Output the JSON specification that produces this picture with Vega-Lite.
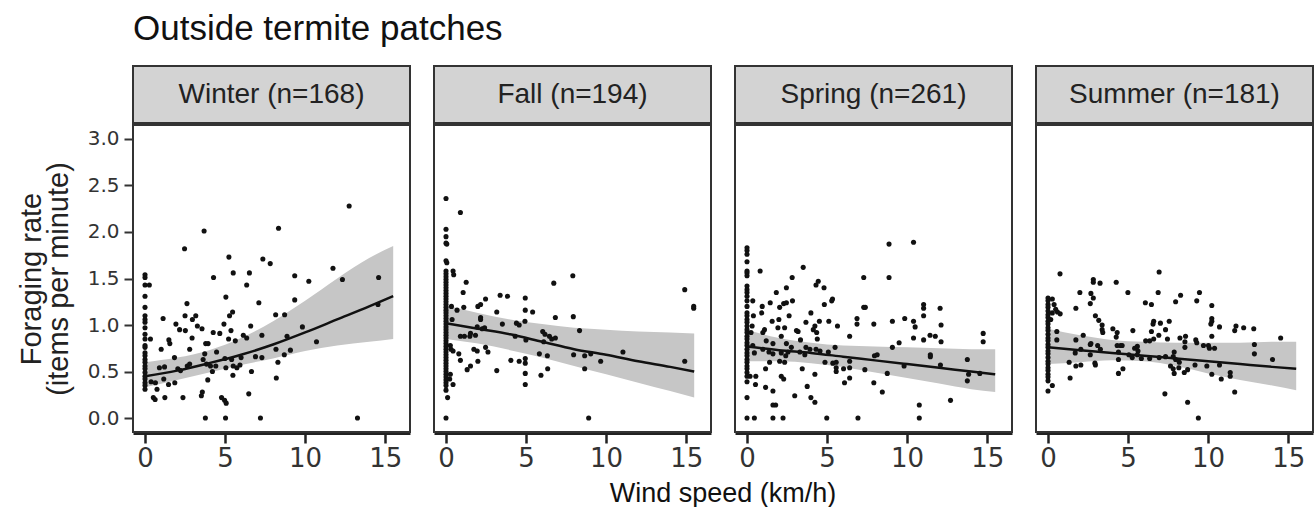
{
  "$schema": "https://vega.github.io/schema/vega-lite/v6.json",
  "background": "white",
  "padding": {"left": 17, "top": 12, "right": 5, "bottom": 0},
  "title": {"text": "Outside termite patches", "anchor": "start", "frame": "group", "fontSize": 35, "fontWeight": "normal", "font": "Liberation Sans", "color": "#111", "offset": 18},
  "config": {"font": "Liberation Sans", "view": {"stroke": null}, "axis": {"grid": false}},
  "spacing": 0,
  "datasets": {
    "panels": [
      {"season": "Winter", "label": "Winter (n=168)"},
      {"season": "Fall", "label": "Fall (n=194)"},
      {"season": "Spring", "label": "Spring (n=261)"},
      {"season": "Summer", "label": "Summer (n=181)"}
    ],
    "obs": [
      {"season":"Winter","wind":0,"rate":1.54},{"season":"Winter","wind":0,"rate":1.51},{"season":"Winter","wind":0,"rate":1.43},{"season":"Winter","wind":0,"rate":1.31},{"season":"Winter","wind":0,"rate":1.19},{"season":"Winter","wind":0,"rate":1.10},{"season":"Winter","wind":0,"rate":1.06},{"season":"Winter","wind":0,"rate":1.03},{"season":"Winter","wind":0,"rate":0.97},{"season":"Winter","wind":0,"rate":0.90},{"season":"Winter","wind":0,"rate":0.85},{"season":"Winter","wind":0,"rate":0.78},{"season":"Winter","wind":0,"rate":0.76},{"season":"Winter","wind":0,"rate":0.70},{"season":"Winter","wind":0,"rate":0.67},{"season":"Winter","wind":0,"rate":0.63},{"season":"Winter","wind":0,"rate":0.60},{"season":"Winter","wind":0,"rate":0.56},{"season":"Winter","wind":0,"rate":0.53},{"season":"Winter","wind":0,"rate":0.49},{"season":"Winter","wind":0,"rate":0.45},{"season":"Winter","wind":0,"rate":0.42},{"season":"Winter","wind":0,"rate":0.38},{"season":"Winter","wind":0,"rate":0.35},{"season":"Winter","wind":0,"rate":0.31},
      {"season":"Winter","wind":0.27,"rate":1.43},{"season":"Winter","wind":0.34,"rate":0.85},{"season":"Winter","wind":0.9,"rate":0.54},{"season":"Winter","wind":0.38,"rate":0.39},
      {"season":"Winter","wind":12.75,"rate":2.28},{"season":"Winter","wind":3.69,"rate":2.01},{"season":"Winter","wind":8.34,"rate":2.04},{"season":"Winter","wind":2.47,"rate":1.82},{"season":"Winter","wind":5.24,"rate":1.73},{"season":"Winter","wind":7.36,"rate":1.71},{"season":"Winter","wind":7.82,"rate":1.66},{"season":"Winter","wind":5.51,"rate":1.56},{"season":"Winter","wind":6.52,"rate":1.56},{"season":"Winter","wind":4.28,"rate":1.51},{"season":"Winter","wind":9.35,"rate":1.53},{"season":"Winter","wind":11.74,"rate":1.61},{"season":"Winter","wind":14.59,"rate":1.51},{"season":"Winter","wind":12.33,"rate":1.49},{"season":"Winter","wind":10.23,"rate":1.47},{"season":"Winter","wind":6.35,"rate":1.43},{"season":"Winter","wind":5.05,"rate":1.30},{"season":"Winter","wind":7.11,"rate":1.24},{"season":"Winter","wind":9.35,"rate":1.27},{"season":"Winter","wind":2.62,"rate":1.23},{"season":"Winter","wind":14.55,"rate":1.22},{"season":"Winter","wind":1.13,"rate":1.07},{"season":"Winter","wind":2.50,"rate":1.10},{"season":"Winter","wind":2.96,"rate":1.06},{"season":"Winter","wind":3.17,"rate":1.10},{"season":"Winter","wind":3.27,"rate":0.99},{"season":"Winter","wind":3.56,"rate":0.96},{"season":"Winter","wind":1.93,"rate":1.01},{"season":"Winter","wind":2.16,"rate":0.95},{"season":"Winter","wind":2.52,"rate":0.94},{"season":"Winter","wind":5.28,"rate":1.10},{"season":"Winter","wind":5.47,"rate":1.14},{"season":"Winter","wind":4.93,"rate":1.01},{"season":"Winter","wind":5.37,"rate":0.94},{"season":"Winter","wind":6.60,"rate":0.99},{"season":"Winter","wind":8.16,"rate":1.11},{"season":"Winter","wind":8.72,"rate":1.11},{"season":"Winter","wind":9.83,"rate":0.98},{"season":"Winter","wind":7.30,"rate":0.89},{"season":"Winter","wind":4.26,"rate":0.92},{"season":"Winter","wind":4.67,"rate":0.91},{"season":"Winter","wind":2.94,"rate":0.86},{"season":"Winter","wind":5.22,"rate":0.85},{"season":"Winter","wind":5.64,"rate":0.83},{"season":"Winter","wind":6.14,"rate":0.89},{"season":"Winter","wind":6.35,"rate":0.86},{"season":"Winter","wind":8.87,"rate":0.88},{"season":"Winter","wind":10.71,"rate":0.82},{"season":"Winter","wind":1.49,"rate":0.84},{"season":"Winter","wind":1.55,"rate":0.80},{"season":"Winter","wind":1.01,"rate":0.74},{"season":"Winter","wind":2.79,"rate":0.74},{"season":"Winter","wind":3.79,"rate":0.80},{"season":"Winter","wind":3.94,"rate":0.80},{"season":"Winter","wind":4.47,"rate":0.71},{"season":"Winter","wind":3.73,"rate":0.69},{"season":"Winter","wind":1.84,"rate":0.65},{"season":"Winter","wind":3.63,"rate":0.63},{"season":"Winter","wind":4.99,"rate":0.64},{"season":"Winter","wind":5.41,"rate":0.63},{"season":"Winter","wind":6.00,"rate":0.65},{"season":"Winter","wind":6.90,"rate":0.66},{"season":"Winter","wind":7.30,"rate":0.65},{"season":"Winter","wind":8.18,"rate":0.74},{"season":"Winter","wind":9.08,"rate":0.73},{"season":"Winter","wind":8.70,"rate":0.68},{"season":"Winter","wind":8.30,"rate":0.60},{"season":"Winter","wind":1.22,"rate":0.55},{"season":"Winter","wind":2.05,"rate":0.53},{"season":"Winter","wind":2.22,"rate":0.51},{"season":"Winter","wind":2.64,"rate":0.56},{"season":"Winter","wind":2.79,"rate":0.58},{"season":"Winter","wind":3.84,"rate":0.58},{"season":"Winter","wind":4.09,"rate":0.56},{"season":"Winter","wind":4.21,"rate":0.50},{"season":"Winter","wind":4.42,"rate":0.56},{"season":"Winter","wind":5.05,"rate":0.54},{"season":"Winter","wind":5.51,"rate":0.56},{"season":"Winter","wind":5.74,"rate":0.54},{"season":"Winter","wind":5.93,"rate":0.57},{"season":"Winter","wind":6.65,"rate":0.50},{"season":"Winter","wind":5.49,"rate":0.46},{"season":"Winter","wind":3.92,"rate":0.41},{"season":"Winter","wind":0.65,"rate":0.38},{"season":"Winter","wind":1.17,"rate":0.42},{"season":"Winter","wind":1.47,"rate":0.36},{"season":"Winter","wind":1.86,"rate":0.38},{"season":"Winter","wind":0.75,"rate":0.31},{"season":"Winter","wind":8.20,"rate":0.43},{"season":"Winter","wind":0.52,"rate":0.22},{"season":"Winter","wind":0.63,"rate":0.20},{"season":"Winter","wind":1.24,"rate":0.22},{"season":"Winter","wind":2.37,"rate":0.22},{"season":"Winter","wind":3.58,"rate":0.28},{"season":"Winter","wind":3.52,"rate":0.24},{"season":"Winter","wind":4.78,"rate":0.22},{"season":"Winter","wind":4.97,"rate":0.19},{"season":"Winter","wind":5.07,"rate":0.16},{"season":"Winter","wind":6.48,"rate":0.26},{"season":"Winter","wind":3.77,"rate":0},{"season":"Winter","wind":5.03,"rate":0},{"season":"Winter","wind":7.21,"rate":0},{"season":"Winter","wind":13.27,"rate":0},

      {"season":"Fall","wind":0,"rate":2.36},{"season":"Fall","wind":0,"rate":2.03},{"season":"Fall","wind":0,"rate":1.95},{"season":"Fall","wind":0,"rate":1.88},{"season":"Fall","wind":0.05,"rate":1.87},{"season":"Fall","wind":0,"rate":1.69},{"season":"Fall","wind":0.05,"rate":1.67},{"season":"Fall","wind":0,"rate":1.58},{"season":"Fall","wind":0,"rate":1.55},{"season":"Fall","wind":0,"rate":1.52},{"season":"Fall","wind":0,"rate":1.49},{"season":"Fall","wind":0,"rate":1.46},{"season":"Fall","wind":0,"rate":1.43},{"season":"Fall","wind":0,"rate":1.40},{"season":"Fall","wind":0,"rate":1.37},{"season":"Fall","wind":0,"rate":1.34},{"season":"Fall","wind":0,"rate":1.31},{"season":"Fall","wind":0,"rate":1.28},{"season":"Fall","wind":0,"rate":1.25},{"season":"Fall","wind":0,"rate":1.22},{"season":"Fall","wind":0,"rate":1.19},{"season":"Fall","wind":0,"rate":1.16},{"season":"Fall","wind":0,"rate":1.13},{"season":"Fall","wind":0,"rate":1.10},{"season":"Fall","wind":0,"rate":1.07},{"season":"Fall","wind":0,"rate":1.04},{"season":"Fall","wind":0,"rate":1.01},{"season":"Fall","wind":0,"rate":0.98},{"season":"Fall","wind":0,"rate":0.95},{"season":"Fall","wind":0,"rate":0.92},{"season":"Fall","wind":0,"rate":0.89},{"season":"Fall","wind":0,"rate":0.86},{"season":"Fall","wind":0,"rate":0.83},{"season":"Fall","wind":0,"rate":0.80},{"season":"Fall","wind":0,"rate":0.77},{"season":"Fall","wind":0,"rate":0.74},{"season":"Fall","wind":0,"rate":0.71},{"season":"Fall","wind":0,"rate":0.68},{"season":"Fall","wind":0,"rate":0.65},{"season":"Fall","wind":0,"rate":0.62},{"season":"Fall","wind":0,"rate":0.59},{"season":"Fall","wind":0,"rate":0.56},{"season":"Fall","wind":0,"rate":0.53},{"season":"Fall","wind":0,"rate":0.50},{"season":"Fall","wind":0,"rate":0.47},{"season":"Fall","wind":0,"rate":0.44},{"season":"Fall","wind":0,"rate":0.41},{"season":"Fall","wind":0,"rate":0.38},{"season":"Fall","wind":0,"rate":0.35},{"season":"Fall","wind":0,"rate":0.30},{"season":"Fall","wind":0.1,"rate":0.22},{"season":"Fall","wind":0,"rate":0},
      {"season":"Fall","wind":0.44,"rate":1.58},{"season":"Fall","wind":0.48,"rate":1.54},{"season":"Fall","wind":0.38,"rate":1.06},{"season":"Fall","wind":0.31,"rate":0.74},{"season":"Fall","wind":0.44,"rate":0.72},{"season":"Fall","wind":0.27,"rate":0.47},{"season":"Fall","wind":0.44,"rate":0.36},{"season":"Fall","wind":0.23,"rate":0.42},{"season":"Fall","wind":0.27,"rate":0.78},{"season":"Fall","wind":0.34,"rate":1.20},
      {"season":"Fall","wind":0.90,"rate":2.21},{"season":"Fall","wind":7.92,"rate":1.53},{"season":"Fall","wind":6.73,"rate":1.45},{"season":"Fall","wind":1.26,"rate":1.46},{"season":"Fall","wind":1.07,"rate":1.35},{"season":"Fall","wind":3.38,"rate":1.32},{"season":"Fall","wind":3.84,"rate":1.31},{"season":"Fall","wind":2.47,"rate":1.28},{"season":"Fall","wind":4.95,"rate":1.29},{"season":"Fall","wind":2.16,"rate":1.22},{"season":"Fall","wind":1.99,"rate":1.20},{"season":"Fall","wind":1.11,"rate":1.19},{"season":"Fall","wind":0.69,"rate":1.16},{"season":"Fall","wind":3.17,"rate":1.14},{"season":"Fall","wind":4.95,"rate":1.16},{"season":"Fall","wind":5.41,"rate":1.14},{"season":"Fall","wind":2.16,"rate":1.08},{"season":"Fall","wind":2.16,"rate":1.06},{"season":"Fall","wind":6.83,"rate":1.08},{"season":"Fall","wind":7.95,"rate":1.09},{"season":"Fall","wind":3.52,"rate":1.01},{"season":"Fall","wind":4.40,"rate":1.02},{"season":"Fall","wind":4.57,"rate":1.00},{"season":"Fall","wind":4.93,"rate":1.04},{"season":"Fall","wind":1.95,"rate":0.98},{"season":"Fall","wind":2.26,"rate":0.96},{"season":"Fall","wind":2.41,"rate":0.97},{"season":"Fall","wind":8.34,"rate":0.94},{"season":"Fall","wind":6.04,"rate":0.93},{"season":"Fall","wind":6.18,"rate":0.90},{"season":"Fall","wind":6.46,"rate":0.88},{"season":"Fall","wind":6.83,"rate":0.86},{"season":"Fall","wind":6.60,"rate":0.85},{"season":"Fall","wind":6.10,"rate":0.82},{"season":"Fall","wind":4.32,"rate":0.88},{"season":"Fall","wind":4.99,"rate":0.84},{"season":"Fall","wind":0.90,"rate":0.88},{"season":"Fall","wind":1.15,"rate":0.88},{"season":"Fall","wind":1.49,"rate":0.88},{"season":"Fall","wind":1.53,"rate":0.91},{"season":"Fall","wind":1.84,"rate":0.89},{"season":"Fall","wind":1.74,"rate":0.74},{"season":"Fall","wind":1.95,"rate":0.72},{"season":"Fall","wind":2.47,"rate":0.76},{"season":"Fall","wind":2.62,"rate":0.71},{"season":"Fall","wind":0.80,"rate":0.69},{"season":"Fall","wind":0.90,"rate":0.62},{"season":"Fall","wind":1.99,"rate":0.61},{"season":"Fall","wind":3.17,"rate":0.51},{"season":"Fall","wind":4.05,"rate":0.62},{"season":"Fall","wind":4.57,"rate":0.61},{"season":"Fall","wind":4.95,"rate":0.64},{"season":"Fall","wind":4.95,"rate":0.59},{"season":"Fall","wind":5.83,"rate":0.69},{"season":"Fall","wind":6.33,"rate":0.67},{"season":"Fall","wind":7.97,"rate":0.68},{"season":"Fall","wind":8.66,"rate":0.67},{"season":"Fall","wind":9.04,"rate":0.69},{"season":"Fall","wind":9.66,"rate":0.61},{"season":"Fall","wind":11.05,"rate":0.71},{"season":"Fall","wind":14.91,"rate":1.38},{"season":"Fall","wind":15.47,"rate":1.18},{"season":"Fall","wind":15.47,"rate":1.20},{"season":"Fall","wind":14.91,"rate":0.61},{"season":"Fall","wind":1.32,"rate":0.52},{"season":"Fall","wind":1.53,"rate":0.56},{"season":"Fall","wind":4.95,"rate":0.48},{"season":"Fall","wind":4.95,"rate":0.36},{"season":"Fall","wind":5.93,"rate":0.46},{"season":"Fall","wind":6.35,"rate":0.53},{"season":"Fall","wind":8.66,"rate":0.53},{"season":"Fall","wind":8.91,"rate":0},

      {"season":"Spring","wind":0,"rate":1.83},{"season":"Spring","wind":0,"rate":1.80},{"season":"Spring","wind":0,"rate":1.76},{"season":"Spring","wind":0,"rate":1.68},{"season":"Spring","wind":0,"rate":1.58},{"season":"Spring","wind":0,"rate":1.56},{"season":"Spring","wind":0,"rate":1.53},{"season":"Spring","wind":0,"rate":1.42},{"season":"Spring","wind":0,"rate":1.38},{"season":"Spring","wind":0,"rate":1.35},{"season":"Spring","wind":0,"rate":1.31},{"season":"Spring","wind":0,"rate":1.26},{"season":"Spring","wind":0,"rate":1.20},{"season":"Spring","wind":0,"rate":1.13},{"season":"Spring","wind":0,"rate":1.10},{"season":"Spring","wind":0,"rate":1.06},{"season":"Spring","wind":0,"rate":1.03},{"season":"Spring","wind":0,"rate":0.99},{"season":"Spring","wind":0,"rate":0.95},{"season":"Spring","wind":0,"rate":0.92},{"season":"Spring","wind":0,"rate":0.88},{"season":"Spring","wind":0,"rate":0.85},{"season":"Spring","wind":0,"rate":0.81},{"season":"Spring","wind":0,"rate":0.78},{"season":"Spring","wind":0,"rate":0.74},{"season":"Spring","wind":0,"rate":0.70},{"season":"Spring","wind":0,"rate":0.67},{"season":"Spring","wind":0,"rate":0.63},{"season":"Spring","wind":0,"rate":0.60},{"season":"Spring","wind":0,"rate":0.56},{"season":"Spring","wind":0,"rate":0.53},{"season":"Spring","wind":0,"rate":0.49},{"season":"Spring","wind":0,"rate":0.45},{"season":"Spring","wind":0,"rate":0.39},{"season":"Spring","wind":0,"rate":0.22},{"season":"Spring","wind":0,"rate":0},
      {"season":"Spring","wind":0.36,"rate":1.26},{"season":"Spring","wind":0.40,"rate":1.10},{"season":"Spring","wind":0.25,"rate":0.92},{"season":"Spring","wind":0.46,"rate":0.70},{"season":"Spring","wind":0.19,"rate":0.45},{"season":"Spring","wind":0.46,"rate":0},{"season":"Spring","wind":0.36,"rate":0.78},{"season":"Spring","wind":0.32,"rate":0.99},{"season":"Spring","wind":0.53,"rate":0.36},{"season":"Spring","wind":0.55,"rate":0.45},
      {"season":"Spring","wind":0.82,"rate":1.58},{"season":"Spring","wind":8.87,"rate":1.87},{"season":"Spring","wind":10.40,"rate":1.89},{"season":"Spring","wind":3.51,"rate":1.62},{"season":"Spring","wind":2.82,"rate":1.51},{"season":"Spring","wind":7.29,"rate":1.51},{"season":"Spring","wind":8.87,"rate":1.51},{"season":"Spring","wind":4.45,"rate":1.47},{"season":"Spring","wind":4.31,"rate":1.43},{"season":"Spring","wind":4.81,"rate":1.40},{"season":"Spring","wind":2.46,"rate":1.40},{"season":"Spring","wind":1.83,"rate":1.35},{"season":"Spring","wind":5.34,"rate":1.28},{"season":"Spring","wind":5.29,"rate":1.26},{"season":"Spring","wind":1.45,"rate":1.24},{"season":"Spring","wind":2.29,"rate":1.23},{"season":"Spring","wind":2.46,"rate":1.24},{"season":"Spring","wind":2.84,"rate":1.26},{"season":"Spring","wind":0.95,"rate":1.20},{"season":"Spring","wind":2.04,"rate":1.19},{"season":"Spring","wind":4.83,"rate":1.22},{"season":"Spring","wind":7.29,"rate":1.19},{"season":"Spring","wind":7.39,"rate":1.19},{"season":"Spring","wind":11.03,"rate":1.22},{"season":"Spring","wind":11.03,"rate":1.18},{"season":"Spring","wind":0.92,"rate":1.13},{"season":"Spring","wind":2.63,"rate":1.10},{"season":"Spring","wind":3.99,"rate":1.13},{"season":"Spring","wind":12.06,"rate":1.18},{"season":"Spring","wind":11.03,"rate":1.10},{"season":"Spring","wind":6.87,"rate":1.07},{"season":"Spring","wind":9.85,"rate":1.07},{"season":"Spring","wind":1.57,"rate":1.04},{"season":"Spring","wind":1.99,"rate":1.06},{"season":"Spring","wind":3.68,"rate":1.03},{"season":"Spring","wind":4.52,"rate":1.04},{"season":"Spring","wind":5.11,"rate":1.04},{"season":"Spring","wind":9.08,"rate":1.04},{"season":"Spring","wind":10.40,"rate":1.04},{"season":"Spring","wind":7.92,"rate":1.01},{"season":"Spring","wind":6.87,"rate":1.01},{"season":"Spring","wind":10.50,"rate":0.98},{"season":"Spring","wind":12.12,"rate":1.00},{"season":"Spring","wind":1.09,"rate":0.95},{"season":"Spring","wind":1.93,"rate":0.97},{"season":"Spring","wind":2.35,"rate":0.97},{"season":"Spring","wind":4.24,"rate":0.99},{"season":"Spring","wind":4.14,"rate":0.95},{"season":"Spring","wind":5.65,"rate":0.99},{"season":"Spring","wind":3.09,"rate":0.94},{"season":"Spring","wind":3.19,"rate":0.93},{"season":"Spring","wind":4.35,"rate":0.92},{"season":"Spring","wind":0.99,"rate":0.92},{"season":"Spring","wind":2.14,"rate":0.88},{"season":"Spring","wind":6.41,"rate":0.88},{"season":"Spring","wind":10.40,"rate":0.86},{"season":"Spring","wind":11.03,"rate":0.84},{"season":"Spring","wind":11.43,"rate":0.89},{"season":"Spring","wind":11.76,"rate":0.88},{"season":"Spring","wind":12.12,"rate":0.82},{"season":"Spring","wind":4.39,"rate":0.85},{"season":"Spring","wind":3.34,"rate":0.84},{"season":"Spring","wind":9.50,"rate":0.81},{"season":"Spring","wind":9.08,"rate":0.76},{"season":"Spring","wind":14.75,"rate":0.91},{"season":"Spring","wind":14.75,"rate":0.82},{"season":"Spring","wind":1.20,"rate":0.83},{"season":"Spring","wind":1.62,"rate":0.80},{"season":"Spring","wind":2.46,"rate":0.80},{"season":"Spring","wind":2.77,"rate":0.76},{"season":"Spring","wind":3.68,"rate":0.76},{"season":"Spring","wind":3.93,"rate":0.74},{"season":"Spring","wind":4.31,"rate":0.74},{"season":"Spring","wind":4.56,"rate":0.72},{"season":"Spring","wind":5.50,"rate":0.76},{"season":"Spring","wind":5.08,"rate":0.71},{"season":"Spring","wind":0.99,"rate":0.74},{"season":"Spring","wind":1.37,"rate":0.71},{"season":"Spring","wind":1.62,"rate":0.69},{"season":"Spring","wind":2.14,"rate":0.70},{"season":"Spring","wind":2.56,"rate":0.71},{"season":"Spring","wind":3.30,"rate":0.71},{"season":"Spring","wind":3.61,"rate":0.68},{"season":"Spring","wind":2.42,"rate":0.67},{"season":"Spring","wind":7.96,"rate":0.67},{"season":"Spring","wind":8.13,"rate":0.68},{"season":"Spring","wind":11.45,"rate":0.68},{"season":"Spring","wind":11.45,"rate":0.66},{"season":"Spring","wind":13.76,"rate":0.63},{"season":"Spring","wind":1.41,"rate":0.60},{"season":"Spring","wind":2.04,"rate":0.61},{"season":"Spring","wind":2.35,"rate":0.60},{"season":"Spring","wind":4.87,"rate":0.60},{"season":"Spring","wind":5.36,"rate":0.59},{"season":"Spring","wind":5.57,"rate":0.60},{"season":"Spring","wind":6.41,"rate":0.61},{"season":"Spring","wind":9.81,"rate":0.56},{"season":"Spring","wind":12.08,"rate":0.57},{"season":"Spring","wind":5.57,"rate":0.54},{"season":"Spring","wind":6.03,"rate":0.53},{"season":"Spring","wind":6.41,"rate":0.54},{"season":"Spring","wind":3.45,"rate":0.53},{"season":"Spring","wind":1.16,"rate":0.53},{"season":"Spring","wind":4.24,"rate":0.47},{"season":"Spring","wind":5.57,"rate":0.50},{"season":"Spring","wind":7.36,"rate":0.52},{"season":"Spring","wind":8.76,"rate":0.48},{"season":"Spring","wind":13.84,"rate":0.47},{"season":"Spring","wind":14.54,"rate":0.48},{"season":"Spring","wind":13.76,"rate":0.40},{"season":"Spring","wind":2.14,"rate":0.45},{"season":"Spring","wind":2.29,"rate":0.42},{"season":"Spring","wind":6.41,"rate":0.43},{"season":"Spring","wind":6.09,"rate":0.38},{"season":"Spring","wind":7.92,"rate":0.38},{"season":"Spring","wind":1.16,"rate":0.33},{"season":"Spring","wind":3.76,"rate":0.34},{"season":"Spring","wind":1.62,"rate":0.29},{"season":"Spring","wind":2.98,"rate":0.24},{"season":"Spring","wind":3.99,"rate":0.22},{"season":"Spring","wind":4.24,"rate":0.17},{"season":"Spring","wind":8.45,"rate":0.28},{"season":"Spring","wind":12.71,"rate":0.19},{"season":"Spring","wind":1.62,"rate":0.14},{"season":"Spring","wind":1.79,"rate":0.14},{"season":"Spring","wind":10.76,"rate":0.14},{"season":"Spring","wind":1.62,"rate":0},{"season":"Spring","wind":2.25,"rate":0},{"season":"Spring","wind":4.98,"rate":0},{"season":"Spring","wind":6.93,"rate":0},{"season":"Spring","wind":10.76,"rate":0},

      {"season":"Summer","wind":0,"rate":1.29},{"season":"Summer","wind":0,"rate":1.26},{"season":"Summer","wind":0,"rate":1.22},{"season":"Summer","wind":0,"rate":1.19},{"season":"Summer","wind":0,"rate":1.15},{"season":"Summer","wind":0,"rate":1.11},{"season":"Summer","wind":0,"rate":1.08},{"season":"Summer","wind":0,"rate":1.04},{"season":"Summer","wind":0,"rate":1.01},{"season":"Summer","wind":0,"rate":0.97},{"season":"Summer","wind":0,"rate":0.94},{"season":"Summer","wind":0,"rate":0.90},{"season":"Summer","wind":0,"rate":0.86},{"season":"Summer","wind":0,"rate":0.83},{"season":"Summer","wind":0,"rate":0.79},{"season":"Summer","wind":0,"rate":0.76},{"season":"Summer","wind":0,"rate":0.72},{"season":"Summer","wind":0,"rate":0.69},{"season":"Summer","wind":0,"rate":0.65},{"season":"Summer","wind":0,"rate":0.61},{"season":"Summer","wind":0,"rate":0.58},{"season":"Summer","wind":0,"rate":0.54},{"season":"Summer","wind":0,"rate":0.51},{"season":"Summer","wind":0,"rate":0.47},{"season":"Summer","wind":0,"rate":0.44},{"season":"Summer","wind":0,"rate":0.40},{"season":"Summer","wind":0,"rate":0.29},
      {"season":"Summer","wind":0.27,"rate":1.28},{"season":"Summer","wind":0.38,"rate":1.22},{"season":"Summer","wind":0.48,"rate":1.17},{"season":"Summer","wind":0.59,"rate":1.14},{"season":"Summer","wind":0.76,"rate":1.12},{"season":"Summer","wind":0.17,"rate":1.06},{"season":"Summer","wind":0.55,"rate":0.93},{"season":"Summer","wind":0.55,"rate":0.84},{"season":"Summer","wind":0.27,"rate":0.35},{"season":"Summer","wind":0.27,"rate":1.13},
      {"season":"Summer","wind":0.75,"rate":1.55},{"season":"Summer","wind":6.94,"rate":1.57},{"season":"Summer","wind":2.83,"rate":1.49},{"season":"Summer","wind":2.83,"rate":1.46},{"season":"Summer","wind":3.25,"rate":1.45},{"season":"Summer","wind":4.26,"rate":1.46},{"season":"Summer","wind":1.99,"rate":1.35},{"season":"Summer","wind":2.68,"rate":1.34},{"season":"Summer","wind":4.99,"rate":1.35},{"season":"Summer","wind":6.88,"rate":1.35},{"season":"Summer","wind":8.28,"rate":1.32},{"season":"Summer","wind":9.46,"rate":1.35},{"season":"Summer","wind":2.83,"rate":1.29},{"season":"Summer","wind":2.64,"rate":1.23},{"season":"Summer","wind":6.08,"rate":1.24},{"season":"Summer","wind":6.46,"rate":1.22},{"season":"Summer","wind":7.97,"rate":1.25},{"season":"Summer","wind":9.29,"rate":1.26},{"season":"Summer","wind":10.23,"rate":1.21},{"season":"Summer","wind":1.74,"rate":1.18},{"season":"Summer","wind":2.96,"rate":1.10},{"season":"Summer","wind":3.17,"rate":1.05},{"season":"Summer","wind":3.38,"rate":1.00},{"season":"Summer","wind":3.38,"rate":0.95},{"season":"Summer","wind":3.42,"rate":0.92},{"season":"Summer","wind":4.05,"rate":0.96},{"season":"Summer","wind":10.23,"rate":1.07},{"season":"Summer","wind":10.23,"rate":1.04},{"season":"Summer","wind":10.17,"rate":1.01},{"season":"Summer","wind":10.71,"rate":0.98},{"season":"Summer","wind":6.60,"rate":1.04},{"season":"Summer","wind":6.56,"rate":1.01},{"season":"Summer","wind":7.02,"rate":1.02},{"season":"Summer","wind":7.57,"rate":1.04},{"season":"Summer","wind":7.34,"rate":0.95},{"season":"Summer","wind":6.46,"rate":0.93},{"season":"Summer","wind":5.30,"rate":0.94},{"season":"Summer","wind":4.32,"rate":0.92},{"season":"Summer","wind":4.26,"rate":0.87},{"season":"Summer","wind":4.53,"rate":0.78},{"season":"Summer","wind":11.74,"rate":0.99},{"season":"Summer","wind":11.66,"rate":0.94},{"season":"Summer","wind":12.22,"rate":0.97},{"season":"Summer","wind":12.85,"rate":0.96},{"season":"Summer","wind":14.53,"rate":0.86},{"season":"Summer","wind":12.89,"rate":0.79},{"season":"Summer","wind":12.89,"rate":0.69},{"season":"Summer","wind":14.02,"rate":0.63},{"season":"Summer","wind":1.74,"rate":0.84},{"season":"Summer","wind":2.20,"rate":0.89},{"season":"Summer","wind":6.10,"rate":0.83},{"season":"Summer","wind":6.35,"rate":0.83},{"season":"Summer","wind":6.60,"rate":0.85},{"season":"Summer","wind":6.92,"rate":0.89},{"season":"Summer","wind":7.46,"rate":0.85},{"season":"Summer","wind":8.24,"rate":0.86},{"season":"Summer","wind":8.59,"rate":0.88},{"season":"Summer","wind":8.55,"rate":0.82},{"season":"Summer","wind":8.55,"rate":0.76},{"season":"Summer","wind":7.88,"rate":0.71},{"season":"Summer","wind":9.23,"rate":0.84},{"season":"Summer","wind":9.29,"rate":0.81},{"season":"Summer","wind":9.71,"rate":0.78},{"season":"Summer","wind":10.02,"rate":0.78},{"season":"Summer","wind":10.08,"rate":0.75},{"season":"Summer","wind":10.40,"rate":0.75},{"season":"Summer","wind":10.23,"rate":0.88},{"season":"Summer","wind":2.05,"rate":0.74},{"season":"Summer","wind":1.70,"rate":0.70},{"season":"Summer","wind":2.64,"rate":0.79},{"season":"Summer","wind":2.68,"rate":0.80},{"season":"Summer","wind":3.10,"rate":0.78},{"season":"Summer","wind":3.27,"rate":0.74},{"season":"Summer","wind":2.64,"rate":0.68},{"season":"Summer","wind":4.32,"rate":0.78},{"season":"Summer","wind":4.63,"rate":0.78},{"season":"Summer","wind":4.40,"rate":0.71},{"season":"Summer","wind":4.40,"rate":0.63},{"season":"Summer","wind":5.41,"rate":0.75},{"season":"Summer","wind":5.58,"rate":0.77},{"season":"Summer","wind":5.62,"rate":0.72},{"season":"Summer","wind":5.05,"rate":0.68},{"season":"Summer","wind":5.26,"rate":0.65},{"season":"Summer","wind":5.58,"rate":0.68},{"season":"Summer","wind":5.83,"rate":0.64},{"season":"Summer","wind":6.35,"rate":0.64},{"season":"Summer","wind":6.94,"rate":0.65},{"season":"Summer","wind":7.34,"rate":0.66},{"season":"Summer","wind":7.82,"rate":0.66},{"season":"Summer","wind":7.97,"rate":0.63},{"season":"Summer","wind":8.20,"rate":0.60},{"season":"Summer","wind":7.65,"rate":0.56},{"season":"Summer","wind":7.82,"rate":0.53},{"season":"Summer","wind":7.88,"rate":0.48},{"season":"Summer","wind":8.17,"rate":0.54},{"season":"Summer","wind":8.51,"rate":0.49},{"season":"Summer","wind":8.72,"rate":0.52},{"season":"Summer","wind":9.18,"rate":0.57},{"season":"Summer","wind":9.92,"rate":0.56},{"season":"Summer","wind":10.23,"rate":0.47},{"season":"Summer","wind":10.71,"rate":0.57},{"season":"Summer","wind":10.82,"rate":0.42},{"season":"Summer","wind":11.38,"rate":0.49},{"season":"Summer","wind":11.38,"rate":0.45},{"season":"Summer","wind":11.66,"rate":0.28},{"season":"Summer","wind":7.30,"rate":0.26},{"season":"Summer","wind":8.72,"rate":0.17},{"season":"Summer","wind":9.39,"rate":0},{"season":"Summer","wind":1.38,"rate":0.43},{"season":"Summer","wind":1.74,"rate":0.56},{"season":"Summer","wind":2.05,"rate":0.57},{"season":"Summer","wind":2.93,"rate":0.59},{"season":"Summer","wind":2.96,"rate":0.57},{"season":"Summer","wind":4.40,"rate":0.48},{"season":"Summer","wind":4.68,"rate":0.53},{"season":"Summer","wind":1.32,"rate":0.60},

      {"season":"Winter","wind":0,"fit":0.45,"lower":0.33,"upper":0.60},{"season":"Winter","wind":2,"fit":0.51,"lower":0.41,"upper":0.65},{"season":"Winter","wind":4,"fit":0.59,"lower":0.49,"upper":0.73},{"season":"Winter","wind":6,"fit":0.68,"lower":0.57,"upper":0.86},{"season":"Winter","wind":8,"fit":0.79,"lower":0.64,"upper":1.04},{"season":"Winter","wind":10,"fit":0.92,"lower":0.72,"upper":1.26},{"season":"Winter","wind":12,"fit":1.06,"lower":0.78,"upper":1.50},{"season":"Winter","wind":14,"fit":1.20,"lower":0.82,"upper":1.72},{"season":"Winter","wind":15.5,"fit":1.31,"lower":0.85,"upper":1.85},
      {"season":"Fall","wind":0,"fit":1.02,"lower":0.85,"upper":1.21},{"season":"Fall","wind":2,"fit":0.96,"lower":0.80,"upper":1.13},{"season":"Fall","wind":4,"fit":0.90,"lower":0.73,"upper":1.06},{"season":"Fall","wind":6,"fit":0.82,"lower":0.65,"upper":1.01},{"season":"Fall","wind":8,"fit":0.74,"lower":0.56,"upper":0.97},{"season":"Fall","wind":10,"fit":0.68,"lower":0.47,"upper":0.95},{"season":"Fall","wind":12,"fit":0.61,"lower":0.38,"upper":0.93},{"season":"Fall","wind":14,"fit":0.55,"lower":0.29,"upper":0.92},{"season":"Fall","wind":15.5,"fit":0.50,"lower":0.22,"upper":0.91},
      {"season":"Spring","wind":0,"fit":0.77,"lower":0.61,"upper":0.95},{"season":"Spring","wind":2,"fit":0.73,"lower":0.61,"upper":0.86},{"season":"Spring","wind":4,"fit":0.70,"lower":0.59,"upper":0.81},{"season":"Spring","wind":6,"fit":0.66,"lower":0.55,"upper":0.78},{"season":"Spring","wind":8,"fit":0.62,"lower":0.49,"upper":0.77},{"season":"Spring","wind":10,"fit":0.58,"lower":0.43,"upper":0.76},{"season":"Spring","wind":12,"fit":0.54,"lower":0.37,"upper":0.75},{"season":"Spring","wind":14,"fit":0.50,"lower":0.31,"upper":0.74},{"season":"Spring","wind":15.5,"fit":0.47,"lower":0.28,"upper":0.74},
      {"season":"Summer","wind":0,"fit":0.76,"lower":0.58,"upper":0.96},{"season":"Summer","wind":2,"fit":0.73,"lower":0.60,"upper":0.89},{"season":"Summer","wind":4,"fit":0.70,"lower":0.62,"upper":0.84},{"season":"Summer","wind":6,"fit":0.67,"lower":0.61,"upper":0.82},{"season":"Summer","wind":8,"fit":0.64,"lower":0.56,"upper":0.81},{"season":"Summer","wind":10,"fit":0.61,"lower":0.48,"upper":0.81},{"season":"Summer","wind":12,"fit":0.58,"lower":0.41,"upper":0.81},{"season":"Summer","wind":14,"fit":0.55,"lower":0.35,"upper":0.82},{"season":"Summer","wind":15.5,"fit":0.53,"lower":0.30,"upper":0.82}
    ]
  },
  "vconcat": [
    {
      "data": {"name": "panels"},
      "spacing": 22,
      "facet": {"column": {"field": "season", "type": "nominal", "sort": ["Winter", "Fall", "Spring", "Summer"], "header": null}},
      "spec": {
        "width": 277,
        "height": 57,
        "view": {"fill": "#d3d3d3", "stroke": "#333333", "strokeWidth": 2},
        "mark": {"type": "text", "fontSize": 28, "font": "Liberation Sans", "color": "#222222"},
        "encoding": {"text": {"field": "label", "type": "nominal"}}
      }
    },
    {
      "data": {"name": "obs"},
      "spacing": 22,
      "facet": {"column": {"field": "season", "type": "nominal", "sort": ["Winter", "Fall", "Spring", "Summer"],
        "header": {"labels": false, "title": "Wind speed (km/h)", "titleOrient": "bottom", "titleFontSize": 27, "titleFont": "Liberation Sans", "titleFontWeight": "normal", "titleColor": "#111111", "titlePadding": 0}}},
      "spec": {
        "width": 277,
        "height": 307,
        "view": {"fill": "white", "stroke": "#333333", "strokeWidth": 2},
        "layer": [
          {
            "transform": [{"filter": "datum.fit != null"}],
            "mark": {"type": "area", "color": "#c6c6c6", "interpolate": "monotone"},
            "encoding": {
              "x": {"field": "wind", "type": "quantitative", "title": null,
                "scale": {"domain": [-0.75, 16.55], "nice": false, "zero": false},
                "axis": {"values": [0, 5, 10, 15], "labelFont": "DejaVu Sans", "labelFontSize": 26, "labelColor": "#333333", "tickSize": 10, "tickWidth": 2.5, "tickColor": "#222222", "domainWidth": 3, "domainColor": "#222222", "labelPadding": 2, "grid": false}},
              "y": {"field": "lower", "type": "quantitative", "title": ["Foraging rate", "(items per minute)"],
                "scale": {"domain": [-0.15, 3.15], "nice": false, "zero": false},
                "axis": {"values": [0, 0.5, 1, 1.5, 2, 2.5, 3], "format": ".1f", "labelFont": "DejaVu Sans", "labelFontSize": 20, "labelColor": "#333333", "tickSize": 8, "tickWidth": 2, "tickColor": "#333333", "labelPadding": 5, "domain": false, "grid": false, "titleFont": "Liberation Sans", "titleFontSize": 29, "titleFontWeight": "normal", "titleColor": "#222222", "titleLineHeight": 27, "titlePadding": 14}},
              "y2": {"field": "upper"}
            }
          },
          {
            "transform": [{"filter": "datum.rate != null"}],
            "mark": {"type": "circle", "size": 26, "color": "#111111", "opacity": 1},
            "encoding": {
              "x": {"field": "wind", "type": "quantitative", "title": null},
              "y": {"field": "rate", "type": "quantitative", "title": ["Foraging rate", "(items per minute)"]}
            }
          },
          {
            "transform": [{"filter": "datum.fit != null"}],
            "mark": {"type": "line", "color": "#111111", "strokeWidth": 2.5, "interpolate": "monotone"},
            "encoding": {
              "x": {"field": "wind", "type": "quantitative", "title": null},
              "y": {"field": "fit", "type": "quantitative", "title": ["Foraging rate", "(items per minute)"]}
            }
          }
        ]
      }
    }
  ]
}
